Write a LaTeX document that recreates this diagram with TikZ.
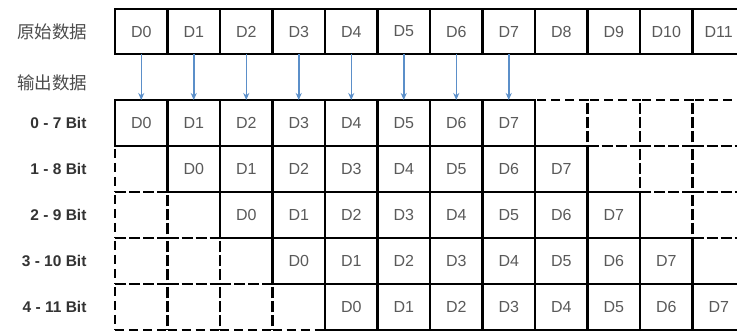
\documentclass[tikz,border=0pt]{standalone}
\usepackage{fontspec}
\setmainfont{Liberation Sans}
\newfontfamily\cjk{Noto Sans CJK SC}
\usetikzlibrary{arrows.meta}
\definecolor{txtgray}{HTML}{5A5A5A}
\definecolor{arrblue}{HTML}{5B8FC9}
\begin{document}
\begin{tikzpicture}[x=1pt,y=-1pt,
 cellbase/.style={rectangle, minimum width=52.5pt, minimum height=46pt, inner sep=0pt, outer sep=0pt, font=\fontsize{16}{16}\selectfont, text=txtgray},
 solidcell/.style={cellbase, draw=black, line width=2.6pt},
 dashcell/.style={cellbase, draw=black, line width=2.6pt, dash pattern=on 9pt off 5pt},
 toprow/.style={solidcell, minimum height=45pt},
 rowlabel/.style={anchor=east, font=\fontsize{15.5}{15.5}\selectfont\bfseries, text=black!80},
 cnlabel/.style={font=\cjk\fontsize{17.5}{17.5}\selectfont, text=black!70},
 feed/.style={draw=arrblue, line width=1.5pt, -{Stealth[length=7pt,width=6pt]}}]
\clip (0,0) rectangle (737,331);
\fill[white] (0,0) rectangle (737,331);
% labels
\node[cnlabel] (lorig) at (52,31.5) {原始数据};
\node[cnlabel] (lout) at (52,83) {输出数据};
\node[rowlabel] (l0) at (90,123) {0 - 7 Bit};
\node[rowlabel] (l1) at (90,169) {1 - 8 Bit};
\node[rowlabel] (l2) at (90,215) {2 - 9 Bit};
\node[rowlabel] (l3) at (90,261) {3 - 10 Bit};
\node[rowlabel] (l4) at (90,307) {4 - 11 Bit};
% top row
\foreach \c in {0,...,11}
  \node[toprow] (t\c) at ({141.25+52.5*\c},31.5) {D\c};
% empty (dashed) cells
\foreach \r in {0,...,4}{
  \foreach \c in {0,...,11}{
    \pgfmathtruncatemacro\d{\c-\r}
    \ifnum\d<0
      \node[dashcell] (o-\r-\c) at ({141.25+52.5*\c},{123+46*\r}) {};
    \else\ifnum\d>7
      \node[dashcell] (o-\r-\c) at ({141.25+52.5*\c},{123+46*\r}) {};
    \fi\fi
  }
}
% data (solid) cells
\foreach \r in {0,...,4}{
  \foreach \c in {0,...,11}{
    \pgfmathtruncatemacro\d{\c-\r}
    \ifnum\d>-1\ifnum\d<8
      \node[solidcell] (o-\r-\c) at ({141.25+52.5*\c},{123+46*\r}) {D\d};
    \fi\fi
  }
}
% arrows
\foreach \c in {0,...,7}
  \draw[feed] (t\c.south) -- (o-0-\c.north);
\end{tikzpicture}
\end{document}
